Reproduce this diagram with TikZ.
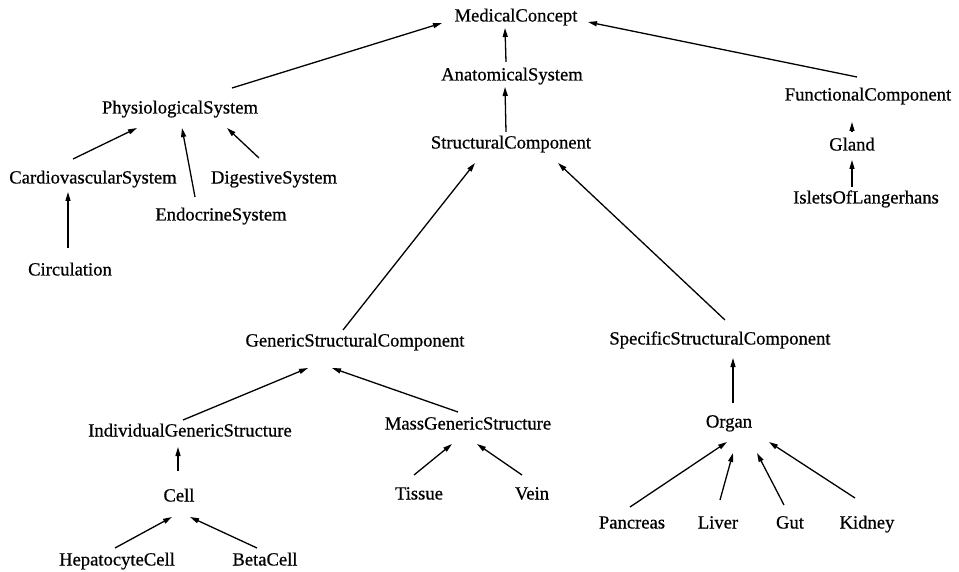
\documentclass[tikz,border=0pt]{standalone}
\usepackage{fontspec}
\setmainfont{Liberation Serif}
\newfontfamily\conceptfont{Liberation Serif}[FakeBold=0.6]
\usetikzlibrary{arrows.meta}
\begin{document}
\begin{tikzpicture}[x=1pt,y=-1pt,
  concept/.style={inner sep=0pt, text height=0.8em, text depth=0.1em,
    font=\conceptfont\fontsize{18.6}{22}\selectfont},
  link/.style={line width=1.3pt, -{Triangle[length=9pt,width=5pt]}}]
\useasboundingbox[fill=white] (0,0) rectangle (959,572);

% concepts
\node[concept] (mc)   at (516,18)  {MedicalConcept};
\node[concept] (as)   at (512,77)  {AnatomicalSystem};
\node[concept] (sc)   at (511,145) {StructuralComponent};
\node[concept] (ps)   at (180,110) {PhysiologicalSystem};
\node[concept] (cs)   at (93,180)  {CardiovascularSystem};
\node[concept] (ds)   at (274,180) {DigestiveSystem};
\node[concept] (es)   at (221,217) {EndocrineSystem};
\node[concept] (circ) at (70,272)  {Circulation};
\node[concept] (fc)   at (868,97)  {FunctionalComponent};
\node[concept] (gl)   at (852,147) {Gland};
\node[concept] (isl)  at (866,200) {IsletsOfLangerhans};
\node[concept] (gsc)  at (355,343) {GenericStructuralComponent};
\node[concept] (ssc)  at (720,341) {SpecificStructuralComponent};
\node[concept] (igs)  at (190,433) {IndividualGenericStructure};
\node[concept] (mgs)  at (468,426) {MassGenericStructure};
\node[concept] (cell) at (179,498) {Cell};
\node[concept] (tis)  at (419,496) {Tissue};
\node[concept] (vein) at (532,496) {Vein};
\node[concept] (hep)  at (117,562) {HepatocyteCell};
\node[concept] (beta) at (265,562) {BetaCell};
\node[concept] (org)  at (729,424) {Organ};
\node[concept] (pan)  at (632,525) {Pancreas};
\node[concept] (liv)  at (718,525) {Liver};
\node[concept] (gut)  at (790,525) {Gut};
\node[concept] (kid)  at (867,525) {Kidney};

% is-a links, child -> parent
\draw[link] ([shift={(52,-22)}]ps.center)   -- ([shift={(-74,5)}]mc.center);
\draw[link] ([shift={(-6,-15)}]as.center)   -- ([shift={(-11,10)}]mc.center);
\draw[link] ([shift={(-11,-20)}]fc.center)  -- ([shift={(72,4)}]mc.center);
\draw[link] ([shift={(-5,-13)}]sc.center)   -- ([shift={(-7,10)}]as.center);
\draw[link] ([shift={(-20,-21)}]cs.center)  -- ([shift={(-43,18)}]ps.center);
\draw[link] ([shift={(-26,-20)}]es.center)  -- ([shift={(2,18)}]ps.center);
\draw[link] ([shift={(-15,-22)}]ds.center)  -- ([shift={(47,18)}]ps.center);
\draw[link] ([shift={(-2,-24)}]circ.center) -- ([shift={(-25,12)}]cs.center);
\draw[link] ([shift={(0,-16)}]gl.center)    -- ([shift={(-16,25)}]fc.center);
\draw[link] ([shift={(-14,-13)}]isl.center) -- ([shift={(0,13)}]gl.center);
\draw[link] ([shift={(-12,-13)}]gsc.center) -- ([shift={(-36,18)}]sc.center);
\draw[link] ([shift={(5,-21)}]ssc.center)   -- ([shift={(47,18)}]sc.center);
\draw[link] ([shift={(-7,-13)}]igs.center)  -- ([shift={(-47,25)}]gsc.center);
\draw[link] ([shift={(-10,-14)}]mgs.center) -- ([shift={(-23,25)}]gsc.center);
\draw[link] ([shift={(-1,-27)}]cell.center) -- ([shift={(-12,14)}]igs.center);
\draw[link] ([shift={(-2,-14)}]hep.center)  -- ([shift={(-7,19)}]cell.center);
\draw[link] ([shift={(-8,-14)}]beta.center) -- ([shift={(11,19)}]cell.center);
\draw[link] ([shift={(-5,-21)}]tis.center)  -- ([shift={(-16,18)}]mgs.center);
\draw[link] ([shift={(-10,-21)}]vein.center) -- ([shift={(9,18)}]mgs.center);
\draw[link] ([shift={(4,-21)}]org.center)   -- ([shift={(13,17)}]ssc.center);
\draw[link] ([shift={(-2,-18)}]pan.center)  -- ([shift={(-2,18)}]org.center);
\draw[link] ([shift={(2,-25)}]liv.center)   -- ([shift={(4,29)}]org.center);
\draw[link] ([shift={(-6,-20)}]gut.center)  -- ([shift={(28,29)}]org.center);
\draw[link] ([shift={(-12,-27)}]kid.center) -- ([shift={(40,18)}]org.center);
\end{tikzpicture}
\end{document}
